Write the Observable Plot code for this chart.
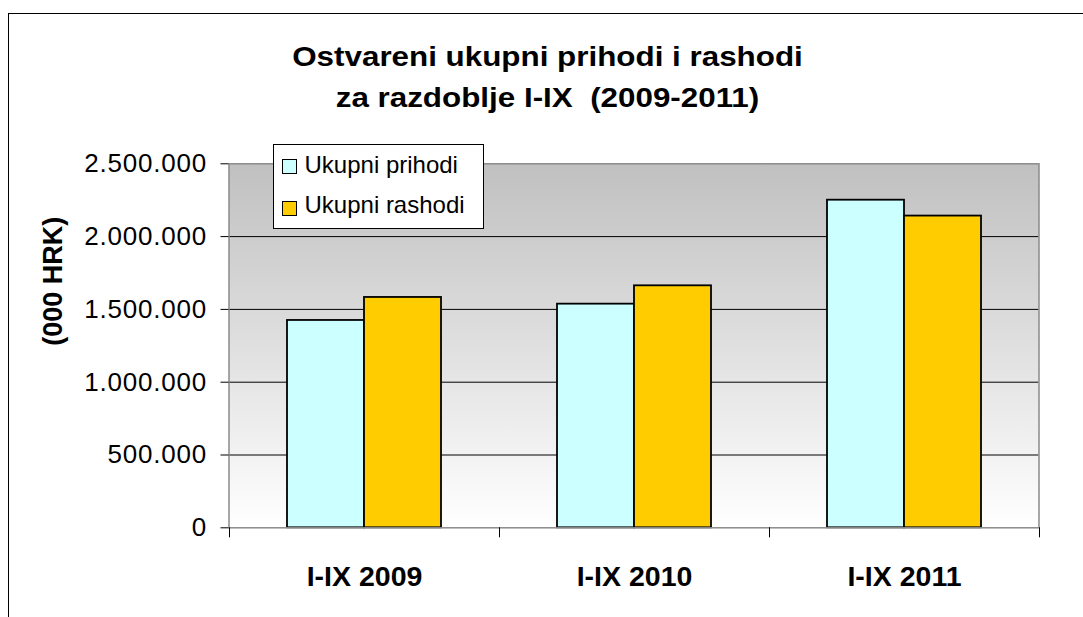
<!DOCTYPE html>
<html>
<head>
<meta charset="utf-8">
<script src="https://cdn.jsdelivr.net/npm/d3@7"></script>
<script src="https://cdn.jsdelivr.net/npm/@observablehq/plot@0.6"></script>
<style>
  body { margin: 0; background: #fff; }
  #wrap { position: relative; width: 1083px; height: 617px; overflow: hidden; font-family: "Liberation Sans", Arial, sans-serif; color: #000; }
  #border { position: absolute; left: 8px; top: 13px; right: -10px; bottom: -10px; border-top: 1.5px solid #000; border-left: 1.5px solid #000; z-index: 3; pointer-events: none; }
  #title { position: absolute; left: 5.5px; width: 1083px; top: 36px; text-align: center; font-weight: bold; font-size: 28px; line-height: 41px; white-space: pre; z-index: 2; }
  #title div { transform: scaleX(1.12); transform-origin: 50% 50%; }
  #chart { position: absolute; left: 0; top: 130px; z-index: 1; }
  #legend { position: absolute; left: 272.5px; top: 143.5px; width: 209px; height: 83px; border: 1px solid #000; background: #fff; z-index: 2; }
  #legend .sw { position: absolute; left: 8px; width: 13px; height: 13px; border: 1px solid #000; }
  #legend .lt { position: absolute; left: 31px; font-size: 24px; line-height: 24px; white-space: nowrap; }
</style>
</head>
<body>
<div id="wrap">
  <div id="border"></div>
  <div id="title"><div>Ostvareni ukupni prihodi i rashodi</div><div>za razdoblje I-IX  (2009-2011)</div></div>
  <div id="chart"></div>
  <div id="legend"></div>
</div>
<script>
const categories = ["I-IX 2009", "I-IX 2010", "I-IX 2011"];
const seriesNames = ["Ukupni prihodi", "Ukupni rashodi"];
const prihodi = [1424000, 1536000, 2250000];
const rashodi = [1582000, 1662000, 2141000];
const yTicks = [0, 500000, 1000000, 1500000, 2000000, 2500000];
const seriesColors = ["#CCFFFF", "#FFCC00"];
const titleText = ["Ostvareni ukupni prihodi i rashodi", "za razdoblje I-IX  (2009-2011)"];
const yLabel = "(000 HRK)";

const fmt = d3.formatLocale({thousands: ".", grouping: [3], decimal: ",", currency: ["", ""]}).format(",");
const rows = categories.map((c, i) => ({category: c, prihodi: prihodi[i], rashodi: rashodi[i]}));

const FONT = '"Liberation Sans", Arial, sans-serif';
const step = 270;
const half = 77;

const plot = Plot.plot({
  width: 1083,
  height: 487,
  marginTop: 33.3,
  marginLeft: 228.5,
  marginRight: 44.5,
  marginBottom: 89.7,
  style: {background: "transparent", fontFamily: FONT, color: "#000", overflow: "visible"},
  x: {domain: categories, paddingInner: 0.43, paddingOuter: 0.215},
  y: {domain: [0, 2500000]},
  marks: [
    Plot.frame({fill: "url(#bgGrad)", stroke: "none"}),
    Plot.ruleY(yTicks.slice(1, -1), {stroke: "#000", strokeWidth: 1}),
    Plot.barY(rows, {x: "category", y: "prihodi", fill: seriesColors[0], stroke: "#000", strokeWidth: 1.8, insetRight: half}),
    Plot.barY(rows, {x: "category", y: "rashodi", fill: seriesColors[1], stroke: "#000", strokeWidth: 1.8, insetLeft: half}),
    Plot.frame({stroke: "#8a8a8a", strokeWidth: 1.5}),
    Plot.ruleX(categories, {x: d => d, dx: -step / 2, y1: 0, y2: 0, insetBottom: -10, stroke: "#000", strokeWidth: 1}),
    Plot.ruleX(categories.slice(-1), {x: d => d, dx: step / 2, y1: 0, y2: 0, insetBottom: -10, stroke: "#000", strokeWidth: 1}),
    Plot.axisY({ticks: yTicks, tickFormat: fmt, tickSize: 8, tickPadding: 14, fontSize: 26, label: null, stroke: "#000"}),
    Plot.axisX({tickSize: 0, tickPadding: 38, fontSize: 28.5, fontWeight: "bold", label: null}),
    Plot.text([yLabel], {text: d => d, frameAnchor: "left", dx: -176, rotate: -90, fontSize: 27, fontWeight: "bold", fill: "#000"})
  ]
});

const svg = d3.select(plot);
svg.insert("defs", ":first-child").html(
  '<linearGradient id="bgGrad" x1="0" y1="0" x2="0" y2="1">' +
  '<stop offset="0" stop-color="#c0c0c0"/><stop offset="1" stop-color="#ffffff"/></linearGradient>'
);
svg.selectAll('[aria-label="y-axis tick label"] text').style("letter-spacing", "0.8px");
document.getElementById("chart").appendChild(plot);

// legend
const legend = d3.select("#legend");
const swTops = [14.5, 56.5];
const txtTops = [8.5, 48.5];
seriesNames.forEach((name, i) => {
  legend.append("div").attr("class", "sw").style("top", swTops[i] + "px").style("background", seriesColors[i]);
  legend.append("div").attr("class", "lt").style("top", txtTops[i] + "px").text(name);
});
</script>
</body>
</html>
